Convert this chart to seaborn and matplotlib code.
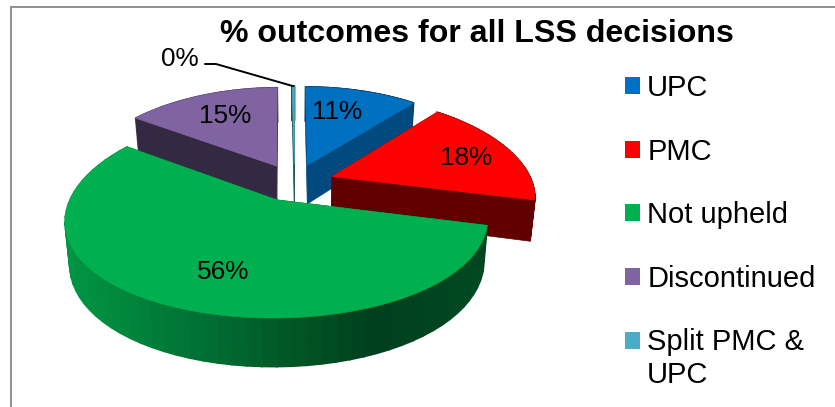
import numpy as np
import seaborn as sns
import matplotlib.pyplot as plt
from matplotlib.patches import Patch, Polygon

# data
categories = ['UPC', 'PMC', 'Not upheld', 'Discontinued', 'Split PMC &\nUPC']
shares = [11, 18, 56, 15, 0.2]
colors = ['#0070c0', '#ff0000', '#00b050', '#8064a2', '#4bacc6']
title = '% outcomes for all LSS decisions'

# how dark the cut face of each slice is, and where its label sits
face_dark = [0.66, 0.376, 0.40, 0.41, 0.50]
label_pos = [(337, 112), (466, 158), (223, 272), (225, 116), (180, 59)]

# projection of the pie plane to pixels
CX, CY = 294.5, 182.3
AX, AY = 200, 94.5
PERSP_X, PERSP_Y = 0.19, 0.15
EXPLODE = 0.2
DEPTH = 40

sns.set_theme(style='white')
plt.rcParams['font.family'] = ['Liberation Sans', 'DejaVu Sans']


def project(u, v, lower=False):
    d = 1 + PERSP_Y * v
    x = CX + AX * u / (1 + PERSP_X * v)
    y = CY - AY * v / d
    if lower:
        x = CX + (x - CX) * 0.98
        y = y + DEPTH / d
    return x, y


def shade(color, f):
    return tuple(c * f for c in plt.matplotlib.colors.to_rgb(color))


def arc_shade(x):
    return np.interp(x, [65, 373, 490], [0.85, 0.36, 0.42])


fig = plt.figure(figsize=(8.35, 4.07), dpi=100)
ax = fig.add_axes([0, 0, 1, 1])
ax.set_xlim(0, 835)
ax.set_ylim(407, 0)
ax.axis('off')

# chart frame
ax.plot([11, 11, 835], [407, 6.7, 6.7], color='#8f8f8f', lw=1.4, solid_joinstyle='miter')

# angles clockwise from the back of the pie
ends = np.cumsum(shares) / np.sum(shares) * 2 * np.pi
starts = np.r_[0, ends[:-1]]

for i in [3, 4, 0, 1, 2]:
    mid = (starts[i] + ends[i]) / 2
    ex, ey = EXPLODE * np.sin(mid), EXPLODE * np.cos(mid)
    th = np.linspace(starts[i], ends[i], 60)
    u = np.sin(th) + ex
    v = np.cos(th) + ey
    tx, ty = project(u, v)
    bx, by = project(u, v, lower=True)
    ax_, ay_ = project(ex, ey)
    ab_x, ab_y = project(ex, ey, lower=True)

    # outer wall, one strip at a time for the gradient
    for k in range(len(th) - 1):
        c = shade(colors[i], arc_shade((tx[k] + tx[k + 1]) / 2))
        ax.add_patch(Polygon([(tx[k], ty[k]), (tx[k + 1], ty[k + 1]), (bx[k + 1], by[k + 1]), (bx[k], by[k])],
                             fc=c, ec=c, lw=1.2))

    # cut faces
    c = shade(colors[i], face_dark[i])
    for k in [0, -1]:
        ax.add_patch(Polygon([(ax_, ay_), (tx[k], ty[k]), (bx[k], by[k]), (ab_x, ab_y)], fc=c, ec=c, lw=0.5))

    # top
    ax.add_patch(Polygon(np.c_[np.r_[ax_, tx], np.r_[ay_, ty]], fc=colors[i], ec=colors[i], lw=0.5))

    ax.text(label_pos[i][0], label_pos[i][1], f'{shares[i]:.0f}%', fontsize=18.8, color='black',
            ha='center', va='center')

# leader line for the 0% slice
mid = (starts[4] + ends[4]) / 2
lx, ly = project(np.sin(mid) + EXPLODE * np.sin(mid), np.cos(mid) + EXPLODE * np.cos(mid))
ax.plot([205, 216, lx], [64, 64, ly], color='black', lw=1.4)

ax.text(477, 34, title, fontsize=23.1, fontweight='bold', color='black', ha='center', va='center')

handles = [Patch(fc=c, ec='none', label=n) for c, n in zip(colors, categories)]
leg = ax.legend(handles=handles, loc='upper left', bbox_to_anchor=(625, 74), bbox_transform=ax.transData,
                frameon=False, fontsize=21, handlelength=0.52, handleheight=0.52, handletextpad=0.24,
                labelspacing=1.22, borderpad=0, borderaxespad=0, labelcolor='black')

# square of the two-line entry sits next to its first line
last = leg.legend_handles[-1]
last.set_y(last.get_y() + 13.7)

fig.savefig('out.png', dpi=100)
